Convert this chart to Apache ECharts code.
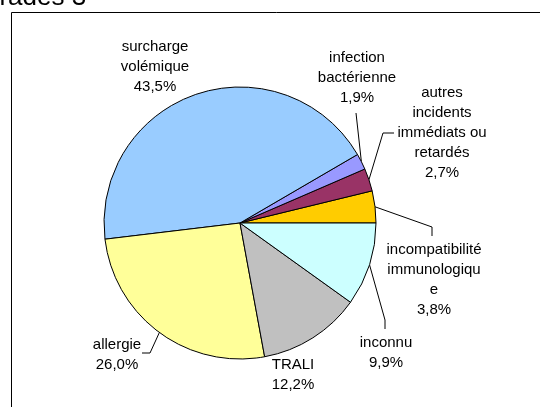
<!DOCTYPE html>
<html>
<head>
<meta charset="utf-8">
<script src="https://cdn.jsdelivr.net/npm/echarts@6/dist/echarts.min.js"></script>
<style>
  html, body { margin: 0; padding: 0; background: #fff; }
  #chart { width: 540px; height: 407px; }
</style>
</head>
<body>
<div id="chart"></div>
<script>
// slices, counter-clockwise from 3 o'clock
const categories = [
  "incompatibilité\nimmunologiqu\ne",
  "autres\nincidents\nimmédiats ou\nretardés",
  "infection\nbactérienne",
  "surcharge\nvolémique",
  "allergie",
  "TRALI",
  "inconnu"
];
const values = [3.8, 2.7, 1.9, 43.5, 26.0, 12.2, 9.9];

const colors = ["#FFCC00", "#993366", "#9999FF", "#99CCFF", "#FFFF99", "#C0C0C0", "#CCFFFF"];

// pie geometry + label placement (centre of text block, leader bend points)
const CX = 240, CY = 223, R = 136;
const labelPos = [
  { x: 434, y: 280, bend: [[432, 227], [432, 236]] },
  { x: 442, y: 133, bend: [[383, 133], [394, 133]] },
  { x: 357, y: 78, bend: [[356, 113], [356, 113]] },
  { x: 155, y: 67, bend: null },
  { x: 117, y: 355, bend: [[150, 353], [142, 353]] },
  { x: 293, y: 375, bend: null },
  { x: 386, y: 353, bend: [[385, 320], [385, 329]] }
];

const total = values.reduce((a, b) => a + b, 0);
// point on the rim at the middle of each slice
const edgePts = [];
let acc = 0;
values.forEach((v) => {
  const mid = ((acc + v / 2) / total) * Math.PI * 2;
  edgePts.push([CX + R * Math.cos(mid), CY - R * Math.sin(mid)]);
  acc += v;
});

const chart = echarts.init(document.getElementById("chart"));
const option = {
  animation: false,
  graphic: [
    {
      type: "rect",
      shape: { x: 11.5, y: 12.5, width: 600, height: 600 },
      style: { fill: "none", stroke: "#000", lineWidth: 1 }
    },
    {
      type: "text",
      x: -15,
      y: -2,
      style: {
        text: "grades 3",
        font: "26px Arial, 'Liberation Sans', sans-serif",
        fill: "#000",
        verticalAlign: "middle"
      }
    }
  ],
  series: [
    {
      type: "pie",
      center: [CX, CY],
      radius: R,
      startAngle: 0,
      clockwise: false,
      avoidLabelOverlap: false,
      itemStyle: { borderColor: "#000", borderWidth: 1 },
      label: {
        show: true,
        position: "outside",
        color: "#000",
        fontSize: 15,
        lineHeight: 20,
        fontFamily: "Arial, 'Liberation Sans', sans-serif",
        align: "center",
        overflow: "none",
        formatter: (p) => p.name + "\n" + p.value.toFixed(1).replace(".", ",") + "%"
      },
      labelLine: { show: true, lineStyle: { color: "#000", width: 1 } },
      labelLayout: (params) => {
        const i = params.dataIndex;
        const lp = labelPos[i];
        const out = { x: lp.x, y: lp.y, align: "center", verticalAlign: "middle" };
        if (lp.bend) {
          out.labelLinePoints = [edgePts[i], lp.bend[0], lp.bend[1]];
        }
        return out;
      },
      data: categories.map((name, i) => ({
        name: name,
        value: values[i],
        itemStyle: { color: colors[i] },
        labelLine: { show: labelPos[i].bend !== null }
      }))
    }
  ]
};
chart.setOption(option);
</script>
</body>
</html>
